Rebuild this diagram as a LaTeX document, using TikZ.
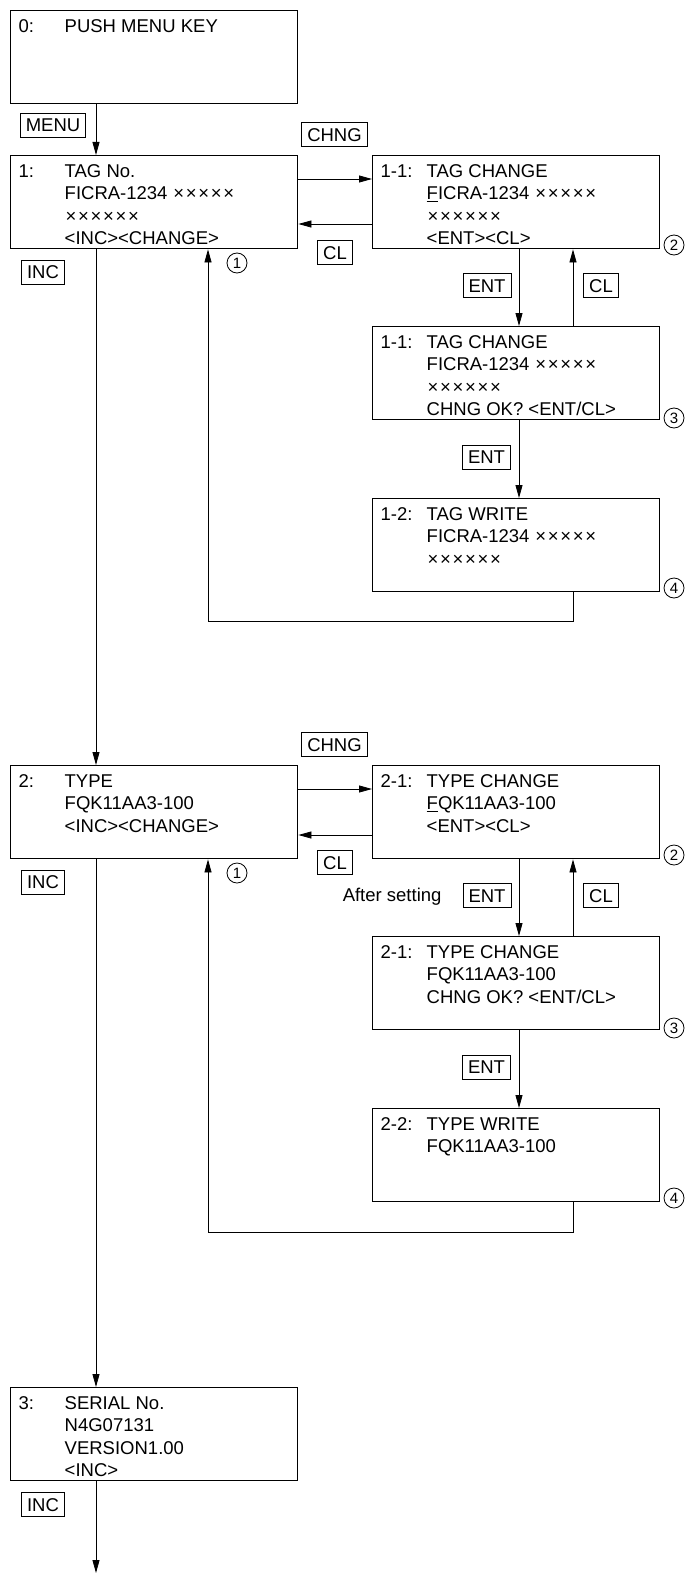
\documentclass[tikz,border=0pt]{standalone}
\usepackage{fontspec}
\setmainfont{Liberation Sans}
\usetikzlibrary{arrows.meta}
\tikzset{
  screen/.style={draw, line width=1.4pt, inner sep=0pt, anchor=north west},
  keybox/.style={draw, line width=0.7pt, inner xsep=5.5pt, inner ysep=0pt, minimum height=24pt, text height=13.3pt, text depth=0pt},
  flow/.style={line width=0.8pt, -{Triangle[length=13pt,width=7pt]}},
  circnum/.style={circle, draw, line width=0.8pt, inner sep=0pt, minimum size=20pt, font=\fontsize{15}{15}\selectfont},
}
\newcommand\tms{\makebox[12.5pt]{×}}
\newcommand\scrtext[2]{\parbox[c][93pt][t]{287pt}{\vspace*{6pt}\hspace*{8pt}\makebox[46pt][l]{#1}\begin{tabular}[t]{@{}l@{}}#2\end{tabular}}}

\begin{document}
\begin{tikzpicture}[x=1pt,y=-1pt,font=\fontsize{18.5}{22.5}\selectfont]
\useasboundingbox (0,0) rectangle (689,1573);
% screens
\node[screen] (b0) at (10,10) {\scrtext{0:}{PUSH MENU KEY}};
\node[screen] (b1) at (10,155) {\scrtext{1:}{TAG No.\\FICRA-1234 \tms\tms\tms\tms\tms\\\tms\tms\tms\tms\tms\tms\\<INC><CHANGE>}};
\node[screen] (b11) at (372,155) {\scrtext{1-1:}{TAG CHANGE\\\underline{F}ICRA-1234 \tms\tms\tms\tms\tms\\\tms\tms\tms\tms\tms\tms\\<ENT><CL>}};
\node[screen] (b11c) at (372,326) {\scrtext{1-1:}{TAG CHANGE\\FICRA-1234 \tms\tms\tms\tms\tms\\\tms\tms\tms\tms\tms\tms\\CHNG OK? <ENT/CL>}};
\node[screen] (b12) at (372,498) {\scrtext{1-2:}{TAG WRITE\\FICRA-1234 \tms\tms\tms\tms\tms\\\tms\tms\tms\tms\tms\tms}};
\node[screen] (b2) at (10,765) {\scrtext{2:}{TYPE\\FQK11AA3-100\\<INC><CHANGE>}};
\node[screen] (b21) at (372,765) {\scrtext{2-1:}{TYPE CHANGE\\\underline{F}QK11AA3-100\\<ENT><CL>}};
\node[screen] (b21c) at (372,936) {\scrtext{2-1:}{TYPE CHANGE\\FQK11AA3-100\\CHNG OK? <ENT/CL>}};
\node[screen] (b22) at (372,1108) {\scrtext{2-2:}{TYPE WRITE\\FQK11AA3-100}};
\node[screen] (b3) at (10,1387) {\scrtext{3:}{SERIAL No.\\N4G07131\\VERSION1.00\\<INC>}};
\coordinate (tail) at (96,1573);
% keys
\node[keybox] (kmenu) at (53,125) {MENU};
\node[keybox] (kchng1) at (334.5,134.5) {CHNG};
\node[keybox] (kcl1) at (335,252.5) {CL};
\node[keybox] (kinc1) at (43,272) {INC};
\node[keybox] (kent1) at (487,285.5) {ENT};
\node[keybox] (kclb1) at (601,285.5) {CL};
\node[keybox] (kentw1) at (486.5,457) {ENT};
\node[keybox] (kchng2) at (334.5,744.5) {CHNG};
\node[keybox] (kcl2) at (335,862.5) {CL};
\node[keybox] (kinc2) at (43,882) {INC};
\node[keybox] (kent2) at (487,895.5) {ENT};
\node[keybox] (kclb2) at (601,895.5) {CL};
\node[keybox] (kentw2) at (486.5,1067) {ENT};
\node[keybox] (kinc3) at (43,1504.5) {INC};
\node[anchor=east] (after) at (445,897) {After setting};
% marks
\node[circnum] (c11) at (237,263) {1};
\node[circnum] (c12) at (674,245) {2};
\node[circnum] (c13) at (674,418) {3};
\node[circnum] (c14) at (674,588) {4};
\node[circnum] (c21) at (237,873) {1};
\node[circnum] (c22) at (674,855) {2};
\node[circnum] (c23) at (674,1028) {3};
\node[circnum] (c24) at (674,1198) {4};
% flow
\draw[flow] ([xshift=86pt]b0.south west) -- ([xshift=86pt]b1.north west);
\draw[flow] ([yshift=-24pt]b1.north east) -- ([yshift=-24pt]b11.north west);
\draw[flow] ([yshift=-69pt]b11.north west) -- ([yshift=-69pt]b1.north east);
\draw[flow] ([xshift=147pt]b11.south west) -- ([xshift=147pt]b11c.north west);
\draw[flow] ([xshift=201pt]b11c.north west) -- ([xshift=201pt]b11.south west);
\draw[flow] ([xshift=147pt]b11c.south west) -- ([xshift=147pt]b12.north west);
\draw[flow] ([xshift=201pt]b12.south west) -- ++(0,29) -| ([xshift=198pt]b1.south west);
\draw[flow] ([xshift=86pt]b1.south west) -- ([xshift=86pt]b2.north west);
\draw[flow] ([yshift=-24pt]b2.north east) -- ([yshift=-24pt]b21.north west);
\draw[flow] ([yshift=-70pt]b21.north west) -- ([yshift=-70pt]b2.north east);
\draw[flow] ([xshift=147pt]b21.south west) -- ([xshift=147pt]b21c.north west);
\draw[flow] ([xshift=201pt]b21c.north west) -- ([xshift=201pt]b21.south west);
\draw[flow] ([xshift=147pt]b21c.south west) -- ([xshift=147pt]b22.north west);
\draw[flow] ([xshift=201pt]b22.south west) -- ++(0,30) -| ([xshift=198pt]b2.south west);
\draw[flow] ([xshift=86pt]b2.south west) -- ([xshift=86pt]b3.north west);
\draw[flow] ([xshift=86pt]b3.south west) -- (tail);
\end{tikzpicture}
\end{document}
